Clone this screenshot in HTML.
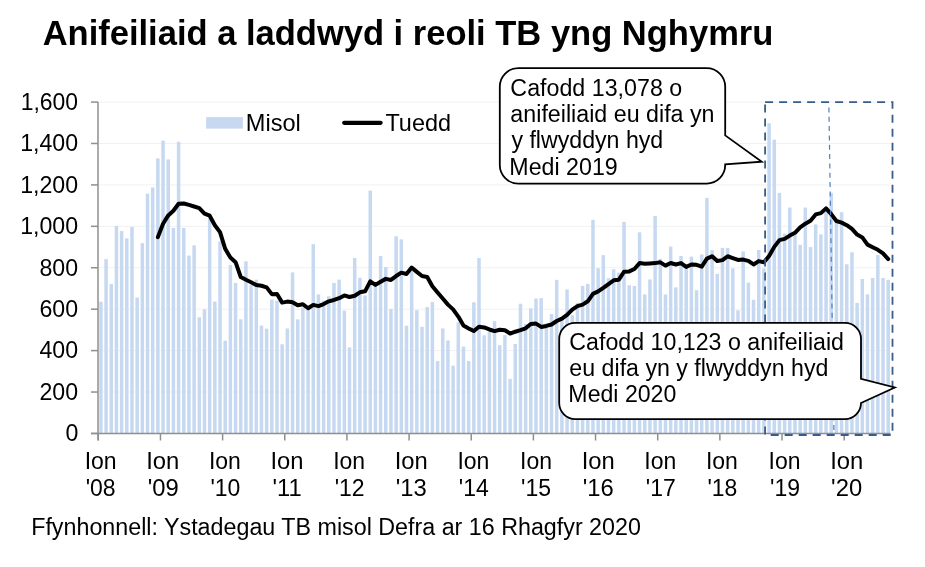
<!DOCTYPE html>
<html><head><meta charset="utf-8"><style>
html,body{margin:0;padding:0;background:#fff;}
body{width:925px;height:567px;position:relative;overflow:hidden;font-family:"Liberation Sans",sans-serif;}
</style></head><body>
<svg width="925" height="567" viewBox="0 0 925 567" style="position:absolute;left:0;top:0;will-change:transform">
<line x1="99.0" y1="392.03" x2="890.5" y2="392.03" stroke="#f1f1f1" stroke-width="1"/>
<line x1="99.0" y1="350.60" x2="890.5" y2="350.60" stroke="#f1f1f1" stroke-width="1"/>
<line x1="99.0" y1="309.18" x2="890.5" y2="309.18" stroke="#f1f1f1" stroke-width="1"/>
<line x1="99.0" y1="267.75" x2="890.5" y2="267.75" stroke="#f1f1f1" stroke-width="1"/>
<line x1="99.0" y1="226.33" x2="890.5" y2="226.33" stroke="#f1f1f1" stroke-width="1"/>
<line x1="99.0" y1="184.91" x2="890.5" y2="184.91" stroke="#f1f1f1" stroke-width="1"/>
<line x1="99.0" y1="143.48" x2="890.5" y2="143.48" stroke="#f1f1f1" stroke-width="1"/>
<line x1="99.0" y1="102.06" x2="890.5" y2="102.06" stroke="#f1f1f1" stroke-width="1"/>
<rect x="99.14" y="301.66" width="3.5" height="131.79" fill="#c6d9f1"/>
<rect x="104.32" y="259.09" width="3.5" height="174.36" fill="#c6d9f1"/>
<rect x="109.50" y="284.01" width="3.5" height="149.44" fill="#c6d9f1"/>
<rect x="114.68" y="225.86" width="3.5" height="207.59" fill="#c6d9f1"/>
<rect x="119.86" y="231.05" width="3.5" height="202.40" fill="#c6d9f1"/>
<rect x="125.04" y="238.32" width="3.5" height="195.13" fill="#c6d9f1"/>
<rect x="130.22" y="226.90" width="3.5" height="206.55" fill="#c6d9f1"/>
<rect x="135.40" y="297.51" width="3.5" height="135.94" fill="#c6d9f1"/>
<rect x="140.58" y="243.10" width="3.5" height="190.35" fill="#c6d9f1"/>
<rect x="145.76" y="193.68" width="3.5" height="239.77" fill="#c6d9f1"/>
<rect x="150.94" y="187.45" width="3.5" height="246.00" fill="#c6d9f1"/>
<rect x="156.12" y="158.37" width="3.5" height="275.08" fill="#c6d9f1"/>
<rect x="161.30" y="140.72" width="3.5" height="292.73" fill="#c6d9f1"/>
<rect x="166.48" y="159.41" width="3.5" height="274.04" fill="#c6d9f1"/>
<rect x="171.66" y="227.94" width="3.5" height="205.51" fill="#c6d9f1"/>
<rect x="176.84" y="141.76" width="3.5" height="291.69" fill="#c6d9f1"/>
<rect x="182.02" y="227.94" width="3.5" height="205.51" fill="#c6d9f1"/>
<rect x="187.20" y="255.56" width="3.5" height="177.89" fill="#c6d9f1"/>
<rect x="192.38" y="245.38" width="3.5" height="188.07" fill="#c6d9f1"/>
<rect x="197.55" y="317.23" width="3.5" height="116.22" fill="#c6d9f1"/>
<rect x="202.73" y="309.34" width="3.5" height="124.11" fill="#c6d9f1"/>
<rect x="207.91" y="218.60" width="3.5" height="214.85" fill="#c6d9f1"/>
<rect x="213.09" y="301.66" width="3.5" height="131.79" fill="#c6d9f1"/>
<rect x="218.27" y="241.44" width="3.5" height="192.01" fill="#c6d9f1"/>
<rect x="223.45" y="340.70" width="3.5" height="92.75" fill="#c6d9f1"/>
<rect x="228.63" y="264.90" width="3.5" height="168.55" fill="#c6d9f1"/>
<rect x="233.81" y="282.97" width="3.5" height="150.48" fill="#c6d9f1"/>
<rect x="238.99" y="319.31" width="3.5" height="114.14" fill="#c6d9f1"/>
<rect x="244.17" y="261.37" width="3.5" height="172.08" fill="#c6d9f1"/>
<rect x="249.35" y="285.05" width="3.5" height="148.40" fill="#c6d9f1"/>
<rect x="254.53" y="279.65" width="3.5" height="153.80" fill="#c6d9f1"/>
<rect x="259.71" y="325.54" width="3.5" height="107.91" fill="#c6d9f1"/>
<rect x="264.89" y="328.66" width="3.5" height="104.79" fill="#c6d9f1"/>
<rect x="270.07" y="299.58" width="3.5" height="133.87" fill="#c6d9f1"/>
<rect x="275.25" y="300.62" width="3.5" height="132.83" fill="#c6d9f1"/>
<rect x="280.43" y="344.23" width="3.5" height="89.22" fill="#c6d9f1"/>
<rect x="285.61" y="328.45" width="3.5" height="105.00" fill="#c6d9f1"/>
<rect x="290.79" y="272.38" width="3.5" height="161.07" fill="#c6d9f1"/>
<rect x="295.97" y="319.31" width="3.5" height="114.14" fill="#c6d9f1"/>
<rect x="301.15" y="307.47" width="3.5" height="125.98" fill="#c6d9f1"/>
<rect x="306.33" y="309.76" width="3.5" height="123.69" fill="#c6d9f1"/>
<rect x="311.51" y="244.14" width="3.5" height="189.31" fill="#c6d9f1"/>
<rect x="316.69" y="294.39" width="3.5" height="139.06" fill="#c6d9f1"/>
<rect x="321.87" y="300.62" width="3.5" height="132.83" fill="#c6d9f1"/>
<rect x="327.05" y="296.26" width="3.5" height="137.19" fill="#c6d9f1"/>
<rect x="332.23" y="282.97" width="3.5" height="150.48" fill="#c6d9f1"/>
<rect x="337.41" y="279.65" width="3.5" height="153.80" fill="#c6d9f1"/>
<rect x="342.59" y="310.59" width="3.5" height="122.86" fill="#c6d9f1"/>
<rect x="347.77" y="347.34" width="3.5" height="86.11" fill="#c6d9f1"/>
<rect x="352.95" y="258.05" width="3.5" height="175.40" fill="#c6d9f1"/>
<rect x="358.13" y="277.78" width="3.5" height="155.67" fill="#c6d9f1"/>
<rect x="363.31" y="295.43" width="3.5" height="138.02" fill="#c6d9f1"/>
<rect x="368.49" y="190.56" width="3.5" height="242.89" fill="#c6d9f1"/>
<rect x="373.67" y="286.08" width="3.5" height="147.37" fill="#c6d9f1"/>
<rect x="378.85" y="255.97" width="3.5" height="177.48" fill="#c6d9f1"/>
<rect x="384.03" y="266.98" width="3.5" height="166.47" fill="#c6d9f1"/>
<rect x="389.21" y="308.93" width="3.5" height="124.52" fill="#c6d9f1"/>
<rect x="394.38" y="236.25" width="3.5" height="197.20" fill="#c6d9f1"/>
<rect x="399.56" y="239.36" width="3.5" height="194.09" fill="#c6d9f1"/>
<rect x="404.74" y="325.75" width="3.5" height="107.70" fill="#c6d9f1"/>
<rect x="409.92" y="270.72" width="3.5" height="162.73" fill="#c6d9f1"/>
<rect x="415.10" y="310.17" width="3.5" height="123.28" fill="#c6d9f1"/>
<rect x="420.28" y="326.79" width="3.5" height="106.66" fill="#c6d9f1"/>
<rect x="425.46" y="307.06" width="3.5" height="126.39" fill="#c6d9f1"/>
<rect x="430.64" y="301.87" width="3.5" height="131.58" fill="#c6d9f1"/>
<rect x="435.82" y="361.05" width="3.5" height="72.40" fill="#c6d9f1"/>
<rect x="441.00" y="328.45" width="3.5" height="105.00" fill="#c6d9f1"/>
<rect x="446.18" y="340.49" width="3.5" height="92.96" fill="#c6d9f1"/>
<rect x="451.36" y="365.62" width="3.5" height="67.83" fill="#c6d9f1"/>
<rect x="456.54" y="322.43" width="3.5" height="111.02" fill="#c6d9f1"/>
<rect x="461.72" y="346.51" width="3.5" height="86.94" fill="#c6d9f1"/>
<rect x="466.90" y="361.05" width="3.5" height="72.40" fill="#c6d9f1"/>
<rect x="472.08" y="302.28" width="3.5" height="131.17" fill="#c6d9f1"/>
<rect x="477.26" y="258.05" width="3.5" height="175.40" fill="#c6d9f1"/>
<rect x="482.44" y="335.30" width="3.5" height="98.15" fill="#c6d9f1"/>
<rect x="487.62" y="331.77" width="3.5" height="101.68" fill="#c6d9f1"/>
<rect x="492.80" y="321.18" width="3.5" height="112.27" fill="#c6d9f1"/>
<rect x="497.98" y="345.27" width="3.5" height="88.18" fill="#c6d9f1"/>
<rect x="503.16" y="335.09" width="3.5" height="98.36" fill="#c6d9f1"/>
<rect x="508.34" y="378.91" width="3.5" height="54.54" fill="#c6d9f1"/>
<rect x="513.52" y="344.02" width="3.5" height="89.43" fill="#c6d9f1"/>
<rect x="518.70" y="303.74" width="3.5" height="129.71" fill="#c6d9f1"/>
<rect x="523.88" y="324.09" width="3.5" height="109.36" fill="#c6d9f1"/>
<rect x="529.06" y="308.30" width="3.5" height="125.15" fill="#c6d9f1"/>
<rect x="534.24" y="298.54" width="3.5" height="134.91" fill="#c6d9f1"/>
<rect x="539.42" y="298.13" width="3.5" height="135.32" fill="#c6d9f1"/>
<rect x="544.60" y="323.46" width="3.5" height="109.99" fill="#c6d9f1"/>
<rect x="549.78" y="314.12" width="3.5" height="119.33" fill="#c6d9f1"/>
<rect x="554.96" y="279.85" width="3.5" height="153.60" fill="#c6d9f1"/>
<rect x="560.14" y="317.03" width="3.5" height="116.42" fill="#c6d9f1"/>
<rect x="565.32" y="289.41" width="3.5" height="144.04" fill="#c6d9f1"/>
<rect x="570.50" y="315.16" width="3.5" height="118.29" fill="#c6d9f1"/>
<rect x="575.68" y="302.91" width="3.5" height="130.54" fill="#c6d9f1"/>
<rect x="580.86" y="285.88" width="3.5" height="147.57" fill="#c6d9f1"/>
<rect x="586.04" y="283.80" width="3.5" height="149.65" fill="#c6d9f1"/>
<rect x="591.22" y="219.84" width="3.5" height="213.61" fill="#c6d9f1"/>
<rect x="596.39" y="268.23" width="3.5" height="165.22" fill="#c6d9f1"/>
<rect x="601.57" y="255.14" width="3.5" height="178.31" fill="#c6d9f1"/>
<rect x="606.75" y="278.19" width="3.5" height="155.26" fill="#c6d9f1"/>
<rect x="611.93" y="269.26" width="3.5" height="164.19" fill="#c6d9f1"/>
<rect x="617.11" y="272.59" width="3.5" height="160.86" fill="#c6d9f1"/>
<rect x="622.29" y="221.92" width="3.5" height="211.53" fill="#c6d9f1"/>
<rect x="627.47" y="285.25" width="3.5" height="148.20" fill="#c6d9f1"/>
<rect x="632.65" y="285.88" width="3.5" height="147.57" fill="#c6d9f1"/>
<rect x="637.83" y="232.30" width="3.5" height="201.15" fill="#c6d9f1"/>
<rect x="643.01" y="294.39" width="3.5" height="139.06" fill="#c6d9f1"/>
<rect x="648.19" y="279.44" width="3.5" height="154.01" fill="#c6d9f1"/>
<rect x="653.37" y="215.90" width="3.5" height="217.55" fill="#c6d9f1"/>
<rect x="658.55" y="258.88" width="3.5" height="174.57" fill="#c6d9f1"/>
<rect x="663.73" y="294.39" width="3.5" height="139.06" fill="#c6d9f1"/>
<rect x="668.91" y="246.63" width="3.5" height="186.82" fill="#c6d9f1"/>
<rect x="674.09" y="287.33" width="3.5" height="146.12" fill="#c6d9f1"/>
<rect x="679.27" y="255.97" width="3.5" height="177.48" fill="#c6d9f1"/>
<rect x="684.45" y="267.19" width="3.5" height="166.26" fill="#c6d9f1"/>
<rect x="689.63" y="256.60" width="3.5" height="176.85" fill="#c6d9f1"/>
<rect x="694.81" y="290.24" width="3.5" height="143.21" fill="#c6d9f1"/>
<rect x="699.99" y="254.52" width="3.5" height="178.93" fill="#c6d9f1"/>
<rect x="705.17" y="197.83" width="3.5" height="235.62" fill="#c6d9f1"/>
<rect x="710.35" y="250.16" width="3.5" height="183.29" fill="#c6d9f1"/>
<rect x="715.53" y="273.83" width="3.5" height="159.62" fill="#c6d9f1"/>
<rect x="720.71" y="247.88" width="3.5" height="185.57" fill="#c6d9f1"/>
<rect x="725.89" y="247.88" width="3.5" height="185.57" fill="#c6d9f1"/>
<rect x="731.07" y="268.43" width="3.5" height="165.02" fill="#c6d9f1"/>
<rect x="736.25" y="310.38" width="3.5" height="123.07" fill="#c6d9f1"/>
<rect x="741.43" y="251.41" width="3.5" height="182.04" fill="#c6d9f1"/>
<rect x="746.61" y="282.55" width="3.5" height="150.90" fill="#c6d9f1"/>
<rect x="751.79" y="299.79" width="3.5" height="133.66" fill="#c6d9f1"/>
<rect x="756.97" y="249.95" width="3.5" height="183.50" fill="#c6d9f1"/>
<rect x="762.15" y="268.43" width="3.5" height="165.02" fill="#c6d9f1"/>
<rect x="767.33" y="123.28" width="3.5" height="310.17" fill="#c6d9f1"/>
<rect x="772.51" y="139.68" width="3.5" height="293.77" fill="#c6d9f1"/>
<rect x="777.69" y="192.85" width="3.5" height="240.60" fill="#c6d9f1"/>
<rect x="782.87" y="233.55" width="3.5" height="199.90" fill="#c6d9f1"/>
<rect x="788.05" y="207.59" width="3.5" height="225.86" fill="#c6d9f1"/>
<rect x="793.22" y="235.00" width="3.5" height="198.45" fill="#c6d9f1"/>
<rect x="798.40" y="244.76" width="3.5" height="188.69" fill="#c6d9f1"/>
<rect x="803.58" y="207.59" width="3.5" height="225.86" fill="#c6d9f1"/>
<rect x="808.76" y="247.04" width="3.5" height="186.41" fill="#c6d9f1"/>
<rect x="813.94" y="224.41" width="3.5" height="209.04" fill="#c6d9f1"/>
<rect x="819.12" y="234.38" width="3.5" height="199.07" fill="#c6d9f1"/>
<rect x="824.30" y="211.33" width="3.5" height="222.12" fill="#c6d9f1"/>
<rect x="829.48" y="192.85" width="3.5" height="240.60" fill="#c6d9f1"/>
<rect x="834.66" y="221.92" width="3.5" height="211.53" fill="#c6d9f1"/>
<rect x="839.84" y="212.16" width="3.5" height="221.29" fill="#c6d9f1"/>
<rect x="845.02" y="264.28" width="3.5" height="169.17" fill="#c6d9f1"/>
<rect x="850.20" y="252.24" width="3.5" height="181.21" fill="#c6d9f1"/>
<rect x="855.38" y="302.91" width="3.5" height="130.54" fill="#c6d9f1"/>
<rect x="860.56" y="279.02" width="3.5" height="154.43" fill="#c6d9f1"/>
<rect x="865.74" y="294.39" width="3.5" height="139.06" fill="#c6d9f1"/>
<rect x="870.92" y="277.99" width="3.5" height="155.46" fill="#c6d9f1"/>
<rect x="876.10" y="254.94" width="3.5" height="178.51" fill="#c6d9f1"/>
<rect x="881.28" y="277.99" width="3.5" height="155.46" fill="#c6d9f1"/>
<rect x="886.46" y="279.85" width="3.5" height="153.60" fill="#c6d9f1"/>
<polyline points="157.87,237.15 163.05,223.74 168.23,215.43 173.41,210.76 178.59,203.75 183.77,203.49 188.95,204.93 194.13,206.47 199.30,208.11 204.48,213.63 209.66,215.71 214.84,225.23 220.02,232.15 225.20,248.81 230.38,257.60 235.56,262.19 240.74,276.99 245.92,279.77 251.10,282.23 256.28,285.08 261.46,285.78 266.64,287.39 271.82,294.14 277.00,294.05 282.18,302.61 287.36,301.59 292.54,302.22 297.72,305.25 302.90,304.26 308.08,308.29 313.26,304.88 318.44,306.11 323.62,304.03 328.80,301.33 333.98,299.95 339.16,298.20 344.34,295.40 349.52,296.97 354.70,295.78 359.88,292.32 365.06,291.31 370.24,281.38 375.42,284.88 380.60,281.68 385.78,278.87 390.96,279.93 396.13,276.03 401.31,272.68 406.49,273.94 411.67,267.55 416.85,271.90 422.03,275.98 427.21,276.95 432.39,286.23 437.57,292.47 442.75,298.51 447.93,304.64 453.11,309.36 458.29,316.55 463.47,325.47 468.65,328.42 473.83,331.05 479.01,326.70 484.19,327.41 489.37,329.47 494.55,331.08 499.73,329.77 504.91,330.32 510.09,333.52 515.27,331.72 520.45,330.16 525.63,328.30 530.81,323.90 535.99,323.59 541.17,326.93 546.35,325.94 551.53,324.47 556.71,321.03 561.89,318.67 567.07,314.87 572.25,309.55 577.43,306.13 582.61,304.64 587.79,301.28 592.97,293.91 598.14,291.38 603.32,287.80 608.50,284.03 613.68,280.29 618.86,279.69 624.04,271.76 629.22,271.41 634.40,268.97 639.58,263.09 644.76,263.80 649.94,263.44 655.12,263.11 660.30,262.33 665.48,265.60 670.66,262.97 675.84,264.47 681.02,263.09 686.20,266.86 691.38,264.47 696.56,264.84 701.74,266.69 706.92,258.64 712.10,256.20 717.28,261.03 722.46,260.11 727.64,256.24 732.82,258.05 738.00,259.98 743.18,259.59 748.36,260.88 753.54,264.47 758.72,261.12 763.90,262.28 769.08,256.06 774.26,246.86 779.44,240.11 784.62,238.92 789.80,235.56 794.97,232.77 800.15,227.30 805.33,223.65 810.51,220.69 815.69,214.41 820.87,213.11 826.05,208.35 831.23,214.15 836.41,221.00 841.59,222.61 846.77,225.18 851.95,228.90 857.13,234.55 862.31,237.41 867.49,244.64 872.67,247.22 877.85,249.77 883.03,253.40 888.21,259.11" fill="none" stroke="#000" stroke-width="4" stroke-linejoin="round" stroke-linecap="round"/>
<line x1="98.0" y1="102.05799999999999" x2="98.0" y2="440.5" stroke="#8f8f8f" stroke-width="1.5"/>
<line x1="91" y1="433.45" x2="890.5" y2="433.45" stroke="#8f8f8f" stroke-width="1.5"/>
<line x1="91" y1="433.45" x2="98.0" y2="433.45" stroke="#8f8f8f" stroke-width="1.5"/>
<line x1="91" y1="392.03" x2="98.0" y2="392.03" stroke="#8f8f8f" stroke-width="1.5"/>
<line x1="91" y1="350.60" x2="98.0" y2="350.60" stroke="#8f8f8f" stroke-width="1.5"/>
<line x1="91" y1="309.18" x2="98.0" y2="309.18" stroke="#8f8f8f" stroke-width="1.5"/>
<line x1="91" y1="267.75" x2="98.0" y2="267.75" stroke="#8f8f8f" stroke-width="1.5"/>
<line x1="91" y1="226.33" x2="98.0" y2="226.33" stroke="#8f8f8f" stroke-width="1.5"/>
<line x1="91" y1="184.91" x2="98.0" y2="184.91" stroke="#8f8f8f" stroke-width="1.5"/>
<line x1="91" y1="143.48" x2="98.0" y2="143.48" stroke="#8f8f8f" stroke-width="1.5"/>
<line x1="91" y1="102.06" x2="98.0" y2="102.06" stroke="#8f8f8f" stroke-width="1.5"/>
<line x1="98.30" y1="433.45" x2="98.30" y2="440.5" stroke="#8f8f8f" stroke-width="1.5"/>
<line x1="160.46" y1="433.45" x2="160.46" y2="440.5" stroke="#8f8f8f" stroke-width="1.5"/>
<line x1="222.61" y1="433.45" x2="222.61" y2="440.5" stroke="#8f8f8f" stroke-width="1.5"/>
<line x1="284.77" y1="433.45" x2="284.77" y2="440.5" stroke="#8f8f8f" stroke-width="1.5"/>
<line x1="346.93" y1="433.45" x2="346.93" y2="440.5" stroke="#8f8f8f" stroke-width="1.5"/>
<line x1="409.08" y1="433.45" x2="409.08" y2="440.5" stroke="#8f8f8f" stroke-width="1.5"/>
<line x1="471.24" y1="433.45" x2="471.24" y2="440.5" stroke="#8f8f8f" stroke-width="1.5"/>
<line x1="533.40" y1="433.45" x2="533.40" y2="440.5" stroke="#8f8f8f" stroke-width="1.5"/>
<line x1="595.55" y1="433.45" x2="595.55" y2="440.5" stroke="#8f8f8f" stroke-width="1.5"/>
<line x1="657.71" y1="433.45" x2="657.71" y2="440.5" stroke="#8f8f8f" stroke-width="1.5"/>
<line x1="719.87" y1="433.45" x2="719.87" y2="440.5" stroke="#8f8f8f" stroke-width="1.5"/>
<line x1="782.03" y1="433.45" x2="782.03" y2="440.5" stroke="#8f8f8f" stroke-width="1.5"/>
<line x1="844.18" y1="433.45" x2="844.18" y2="440.5" stroke="#8f8f8f" stroke-width="1.5"/>
<rect x="206.1" y="117.1" width="36.8" height="11.5" fill="#c6d9f1"/>
<line x1="344.2" y1="122.8" x2="380.6" y2="122.8" stroke="#000" stroke-width="4.2" stroke-linecap="round"/>
<line x1="828.9" y1="107.4" x2="833.9" y2="431" stroke="#4f7fc0" stroke-width="1.2" stroke-dasharray="5 4.34"/>
<rect x="765.1" y="102.2" width="127.4" height="332.8" fill="none" stroke="#385d8a" stroke-width="1.8" stroke-dasharray="8 6"/>
<path d="M518.3,68.1 H706.7 A18.5,18.5 0 0 1 725.2,86.6 V135.4 L761.8,161.7 L725.2,164.4 V165.1 A18.5,18.5 0 0 1 706.7,183.6 H518.3 A18.5,18.5 0 0 1 499.8,165.1 V86.6 A18.5,18.5 0 0 1 518.3,68.1 Z" fill="#fff" stroke="#000" stroke-width="1.8" stroke-linejoin="miter"/>
<path d="M575.2,322.9 H845.0 A16,16 0 0 1 861.0,338.9 V378.9 L894.8,387.5 L861.0,403.0 V403.1 A16,16 0 0 1 845.0,419.1 H575.2 A16,16 0 0 1 559.2,403.1 V338.9 A16,16 0 0 1 575.2,322.9 Z" fill="#fff" stroke="#000" stroke-width="1.8" stroke-linejoin="miter"/>
<text x="42.64" y="44.80" font-family="Liberation Sans" font-size="35.5" font-weight="bold" textLength="730.72" lengthAdjust="spacingAndGlyphs">Anifeiliaid a laddwyd i reoli TB yng Nghymru</text>
<text x="65.53" y="441.25" font-family="Liberation Sans" font-size="24" textLength="12.89" lengthAdjust="spacingAndGlyphs">0</text>
<text x="39.47" y="399.83" font-family="Liberation Sans" font-size="24" textLength="38.65" lengthAdjust="spacingAndGlyphs">200</text>
<text x="39.47" y="358.40" font-family="Liberation Sans" font-size="24" textLength="38.65" lengthAdjust="spacingAndGlyphs">400</text>
<text x="39.47" y="316.98" font-family="Liberation Sans" font-size="24" textLength="38.65" lengthAdjust="spacingAndGlyphs">600</text>
<text x="39.47" y="275.55" font-family="Liberation Sans" font-size="24" textLength="38.65" lengthAdjust="spacingAndGlyphs">800</text>
<text x="20.18" y="234.13" font-family="Liberation Sans" font-size="24" textLength="57.96" lengthAdjust="spacingAndGlyphs">1,000</text>
<text x="20.18" y="192.71" font-family="Liberation Sans" font-size="24" textLength="57.96" lengthAdjust="spacingAndGlyphs">1,200</text>
<text x="20.18" y="151.28" font-family="Liberation Sans" font-size="24" textLength="57.96" lengthAdjust="spacingAndGlyphs">1,400</text>
<text x="20.68" y="109.86" font-family="Liberation Sans" font-size="24" textLength="57.44" lengthAdjust="spacingAndGlyphs">1,600</text>
<text x="84.68" y="468.80" font-family="Liberation Sans" font-size="24" textLength="31.97" lengthAdjust="spacingAndGlyphs">Ion</text>
<text x="85.63" y="495.70" font-family="Liberation Sans" font-size="24" textLength="29.96" lengthAdjust="spacingAndGlyphs">'08</text>
<text x="146.24" y="468.80" font-family="Liberation Sans" font-size="24" textLength="33.07" lengthAdjust="spacingAndGlyphs">Ion</text>
<text x="147.74" y="495.70" font-family="Liberation Sans" font-size="24" textLength="31.00" lengthAdjust="spacingAndGlyphs">'09</text>
<text x="208.94" y="468.80" font-family="Liberation Sans" font-size="24" textLength="31.93" lengthAdjust="spacingAndGlyphs">Ion</text>
<text x="210.41" y="495.70" font-family="Liberation Sans" font-size="24" textLength="29.93" lengthAdjust="spacingAndGlyphs">'10</text>
<text x="270.52" y="468.80" font-family="Liberation Sans" font-size="24" textLength="33.03" lengthAdjust="spacingAndGlyphs">Ion</text>
<text x="272.50" y="495.70" font-family="Liberation Sans" font-size="24" textLength="29.19" lengthAdjust="spacingAndGlyphs">'11</text>
<text x="333.22" y="468.80" font-family="Liberation Sans" font-size="24" textLength="31.93" lengthAdjust="spacingAndGlyphs">Ion</text>
<text x="334.65" y="495.70" font-family="Liberation Sans" font-size="24" textLength="29.93" lengthAdjust="spacingAndGlyphs">'12</text>
<text x="394.75" y="468.80" font-family="Liberation Sans" font-size="24" textLength="33.07" lengthAdjust="spacingAndGlyphs">Ion</text>
<text x="395.73" y="495.70" font-family="Liberation Sans" font-size="24" textLength="31.00" lengthAdjust="spacingAndGlyphs">'13</text>
<text x="457.45" y="468.80" font-family="Liberation Sans" font-size="24" textLength="31.97" lengthAdjust="spacingAndGlyphs">Ion</text>
<text x="458.87" y="495.70" font-family="Liberation Sans" font-size="24" textLength="29.96" lengthAdjust="spacingAndGlyphs">'14</text>
<text x="520.06" y="468.80" font-family="Liberation Sans" font-size="24" textLength="31.97" lengthAdjust="spacingAndGlyphs">Ion</text>
<text x="521.02" y="495.70" font-family="Liberation Sans" font-size="24" textLength="29.96" lengthAdjust="spacingAndGlyphs">'15</text>
<text x="581.63" y="468.80" font-family="Liberation Sans" font-size="24" textLength="33.07" lengthAdjust="spacingAndGlyphs">Ion</text>
<text x="582.64" y="495.70" font-family="Liberation Sans" font-size="24" textLength="31.00" lengthAdjust="spacingAndGlyphs">'16</text>
<text x="644.33" y="468.80" font-family="Liberation Sans" font-size="24" textLength="31.93" lengthAdjust="spacingAndGlyphs">Ion</text>
<text x="645.78" y="495.70" font-family="Liberation Sans" font-size="24" textLength="29.93" lengthAdjust="spacingAndGlyphs">'17</text>
<text x="705.98" y="468.80" font-family="Liberation Sans" font-size="24" textLength="31.93" lengthAdjust="spacingAndGlyphs">Ion</text>
<text x="707.42" y="495.70" font-family="Liberation Sans" font-size="24" textLength="29.92" lengthAdjust="spacingAndGlyphs">'18</text>
<text x="768.61" y="468.80" font-family="Liberation Sans" font-size="24" textLength="31.93" lengthAdjust="spacingAndGlyphs">Ion</text>
<text x="770.04" y="495.70" font-family="Liberation Sans" font-size="24" textLength="29.93" lengthAdjust="spacingAndGlyphs">'19</text>
<text x="830.15" y="468.80" font-family="Liberation Sans" font-size="24" textLength="33.07" lengthAdjust="spacingAndGlyphs">Ion</text>
<text x="831.12" y="495.70" font-family="Liberation Sans" font-size="24" textLength="31.00" lengthAdjust="spacingAndGlyphs">'20</text>
<text x="245.82" y="130.50" font-family="Liberation Sans" font-size="24" textLength="54.98" lengthAdjust="spacingAndGlyphs">Misol</text>
<text x="385.40" y="130.50" font-family="Liberation Sans" font-size="24" textLength="65.63" lengthAdjust="spacingAndGlyphs">Tuedd</text>
<text x="31.20" y="535.30" font-family="Liberation Sans" font-size="23.3" textLength="609.69" lengthAdjust="spacingAndGlyphs">Ffynhonnell: Ystadegau TB misol Defra ar 16 Rhagfyr 2020</text>
<text x="510.39" y="95.60" font-family="Liberation Sans" font-size="23" textLength="171.82" lengthAdjust="spacingAndGlyphs">Cafodd 13,078 o</text>
<text x="510.38" y="121.95" font-family="Liberation Sans" font-size="23" textLength="204.17" lengthAdjust="spacingAndGlyphs">anifeiliaid eu difa yn</text>
<text x="511.40" y="148.30" font-family="Liberation Sans" font-size="23" textLength="151.87" lengthAdjust="spacingAndGlyphs">y flwyddyn hyd</text>
<text x="509.38" y="174.65" font-family="Liberation Sans" font-size="23" textLength="108.35" lengthAdjust="spacingAndGlyphs">Medi 2019</text>
<text x="569.39" y="349.50" font-family="Liberation Sans" font-size="23" textLength="274.60" lengthAdjust="spacingAndGlyphs">Cafodd 10,123 o anifeiliaid</text>
<text x="569.39" y="375.80" font-family="Liberation Sans" font-size="23" textLength="259.00" lengthAdjust="spacingAndGlyphs">eu difa yn y flwyddyn hyd</text>
<text x="568.39" y="402.10" font-family="Liberation Sans" font-size="23" textLength="107.94" lengthAdjust="spacingAndGlyphs">Medi 2020</text>
</svg>
</body></html>
